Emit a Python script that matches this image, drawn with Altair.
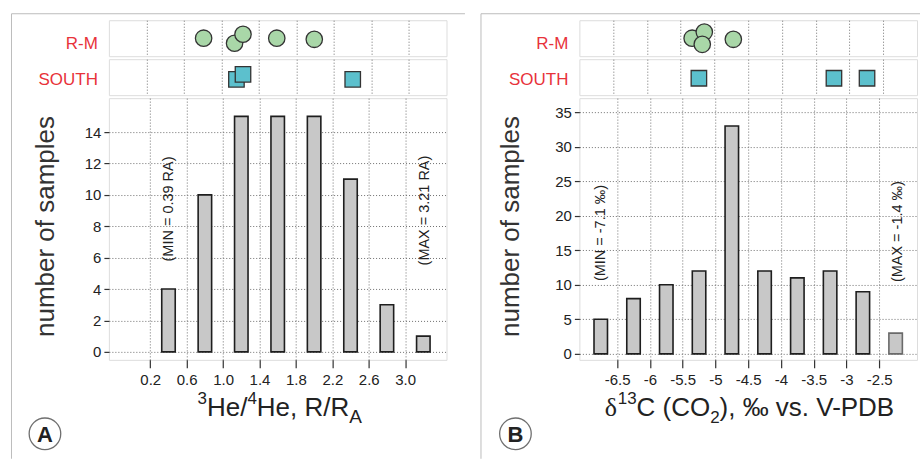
import altair as alt
import pandas as pd

# ---------------- data ----------------
a_centers = [0.4, 0.8, 1.2, 1.6, 2.0, 2.4, 2.8, 3.2]
a_counts = [4, 10, 15, 15, 15, 11, 3, 1]
a_ticks = [0.2, 0.6, 1.0, 1.4, 1.8, 2.2, 2.6, 3.0]
a_yticks = [0, 2, 4, 6, 8, 10, 12, 14]

b_centers = [-6.75, -6.25, -5.75, -5.25, -4.75, -4.25, -3.75, -3.25, -2.75, -2.25]
b_counts = [5, 8, 10, 12, 33, 12, 11, 12, 9, 3]
b_ticks = [-6.5, -6, -5.5, -5, -4.5, -4, -3.5, -3, -2.5]
b_yticks = [0, 5, 10, 15, 20, 25, 30, 35]

# strip (individual sample) positions and vertical jitter
a_rm_x = [0.81, 1.14, 1.23, 1.59, 1.99]
a_rm_j = [0.50, 0.36, 0.61, 0.50, 0.47]
a_s_x = [1.16, 1.23, 2.40]
a_s_j = [0.44, 0.58, 0.44]
b_rm_x = [-5.33, -5.15, -5.18, -4.72]
b_rm_j = [0.50, 0.67, 0.33, 0.47]
b_s_x = [-5.23, -3.23, -2.74]
b_s_j = [0.47, 0.47, 0.47]

# annotations
a_notes = ["(MIN = 0.39 RA)", "(MAX = 3.21 RA)"]
a_notes_x = [0.41, 3.22]
a_notes_y = [9.1, 9.0]
b_notes = ["(MIN = -7.1 ‰)", "(MAX = -1.4 ‰)"]
b_notes_x = [-6.74, -2.22]
b_notes_y = [17.5, 17.7]

group_labels = ["R-M", "SOUTH"]

# ---------------- styling ----------------
FONT = "Liberation Sans"
W = 338
STRIP_H = 36
HIST_H = 262
GRID = dict(gridColor="#6f6f6f", gridDash=[1, 2], gridWidth=1)
RED = "#e8323a"
GREEN = "#a9d7a8"
TEAL = "#5cc0cd"
FRAME = "#bdbdbd"

AW = {'H': .722, 'e': .556, '/': .278, ',': .278, ' ': .278, 'R': .722, 'A': .667,
      '3': .556, '4': .556, '1': .556, '2': .556, 'C': .722, '(': .333, ')': .333,
      'O': .778, '‰': 1.0, 'v': .5, 's': .5, '.': .278, 'V': .667, '-': .333,
      'P': .667, 'D': .722, 'B': .667, 'δ': .5}


def twidth(t, size):
    return sum(AW.get(c, .556) for c in t) * size


def rich_title(parts, center_x, base_y):
    """parts: (text, size, dy, font) -> list of text layers laid left to right"""
    total = sum(twidth(t, s) for t, s, dy, f in parts)
    x = center_x - total / 2
    layers = []
    for t, s, dy, f in parts:
        layers.append(
            alt.Chart(pd.DataFrame({"t": [t]})).mark_text(
                align="left", baseline="alphabetic", fontSize=s, font=f, color="#222"
            ).encode(text="t:N", x=alt.value(x), y=alt.value(base_y + dy))
        )
        x += twidth(t, s)
    return layers


def strip(xs, js, domain, ticks, shape, fill, label, label_y, size):
    df = pd.DataFrame({"x": xs, "j": js})
    pts = alt.Chart(df).mark_point(
        shape=shape, filled=True, fill=fill, stroke="#333333", strokeWidth=1.3,
        size=size, opacity=1
    ).encode(
        x=alt.X("x:Q", scale=alt.Scale(domain=domain, nice=False, zero=False),
                axis=alt.Axis(values=ticks, grid=True, labels=False, ticks=False,
                              domain=False, title=None, **GRID)),
        y=alt.Y("j:Q", scale=alt.Scale(domain=[0, 1]), axis=None),
        order=alt.Order("idx:Q"),
    ).transform_window(idx="row_number()")
    lab = alt.Chart(pd.DataFrame({"t": [label]})).mark_text(
        align="right", baseline="alphabetic", fontSize=17, font=FONT, color=RED
    ).encode(text="t:N", x=alt.value(-11), y=alt.value(label_y))
    return alt.layer(pts, lab).properties(width=W, height=STRIP_H)


def hist(centers, counts, domain, ticks, ydomain, yticks, notes, nx, ny,
         label_expr, ytitle_x, title_parts, letter, frame_left, frame_right,
         last_gray):
    df = pd.DataFrame({"x": centers, "n": counts})
    xenc = alt.X("x:Q", scale=alt.Scale(domain=domain, nice=False, zero=False),
                 axis=alt.Axis(values=ticks, grid=True, domain=False, tickSize=8,
                               tickColor="#333", tickWidth=1.2, labelFontSize=15,
                               labelColor="#222", labelPadding=5, labelExpr=label_expr,
                               labelOverlap=False, title=None, labelFont=FONT, **GRID))
    yenc = alt.Y("n:Q", scale=alt.Scale(domain=ydomain, nice=False, zero=False),
                 axis=alt.Axis(values=yticks, grid=True, domain=False, tickSize=5,
                               tickColor="#333", tickWidth=1.2, labelFontSize=15,
                               labelColor="#222", labelPadding=3, labelFont=FONT,
                               labelOverlap=False,
                               title="number of samples", titleFontSize=26,
                               titleFont=FONT, titleFontWeight="normal",
                               titleColor="#333", titleAngle=270, titleX=ytitle_x,
                               titleY=HIST_H / 2 - 3, titleAlign="center",
                               titleBaseline="middle", **GRID))
    if last_gray:
        stroke = alt.condition(alt.datum.x > last_gray, alt.value("#6a6a6a"),
                               alt.value("#1e1e1e"))
    else:
        stroke = alt.value("#1e1e1e")
    bars = alt.Chart(df).mark_bar(size=13.5, fill="#c8c8c8", strokeWidth=1.6).encode(
        x=xenc, y=yenc, stroke=stroke)
    ndf = pd.DataFrame({"t": notes, "x": nx, "n": ny})
    txt = alt.Chart(ndf).mark_text(angle=270, fontSize=14.5, font=FONT, color="#222",
                                   align="center", baseline="middle").encode(
        x=xenc, y=yenc, text="t:N")
    layers = [bars, txt]
    layers += rich_title(title_parts, W / 2 + 2, 318)
    # circled panel letter
    one = pd.DataFrame({"t": [letter]})
    layers.append(alt.Chart(one).mark_point(shape="circle", size=1000, filled=False,
                                            stroke="#333", strokeWidth=1.3).encode(
        x=alt.value(-64), y=alt.value(336)))
    layers.append(alt.Chart(one).mark_text(fontSize=22, fontWeight="bold", font=FONT,
                                           color="#222", align="center",
                                           baseline="middle").encode(
        text="t:N", x=alt.value(-64), y=alt.value(337)))
    # light panel frame (left, top, right edges)
    fr = alt.Chart(one).mark_rule(color=FRAME, strokeWidth=1)
    layers.append(fr.encode(x=alt.value(frame_left), y=alt.value(-84.5),
                            y2=alt.value(361)))
    layers.append(fr.encode(x=alt.value(frame_left), x2=alt.value(frame_right),
                            y=alt.value(-84.5)))
    if frame_right < 340:
        layers.append(fr.encode(x=alt.value(frame_right), y=alt.value(-84.5),
                                y2=alt.value(361)))
    return alt.layer(*layers).properties(width=W, height=HIST_H)


a_title = [("3", 17, -12, FONT), ("He/", 26, 0, FONT), ("4", 17, -12, FONT),
           ("He, R/R", 26, 0, FONT), ("A", 19, 7, FONT)]
b_title = [("δ", 26, 0, "Liberation Serif"), ("13", 17, -12, FONT),
           ("C (CO", 26, 0, FONT), ("2", 17, 7, FONT),
           ("), ‰ vs. V-PDB", 26, 0, FONT)]

rmA = strip(a_rm_x, a_rm_j, [-0.2, 3.4], a_ticks, "circle", GREEN, group_labels[0], 28.5, 270)
rmB = strip(b_rm_x, b_rm_j, [-7, -2], b_ticks, "circle", GREEN, group_labels[0], 28.5, 270)
sA = strip(a_s_x, a_s_j, [-0.2, 3.4], a_ticks, "square", TEAL, group_labels[1], 25.5, 240)
sB = strip(b_s_x, b_s_j, [-7, -2], b_ticks, "square", TEAL, group_labels[1], 25.5, 240)

hA = hist(a_centers, a_counts, [-0.2, 3.4], a_ticks, [-0.51, 16.16], a_yticks,
          a_notes, a_notes_x, a_notes_y, "format(datum.value, '.1f')", -63,
          a_title, "A", -97.5, 356.5, None)
hB = hist(b_centers, b_counts, [-7, -2], b_ticks, [-0.87, 37.03], b_yticks,
          b_notes, b_notes_x, b_notes_y, "datum.value + ''", -69,
          b_title, "B", -98.5, 341, -2.5)

chart = alt.concat(rmA, rmB, sA, sB, hA, hB, columns=2,
                   spacing={"row": 3, "column": 133}, bounds="flush").properties(
    padding={"left": 10, "top": 12, "right": 0, "bottom": 0},
    background="white",
).configure_view(stroke="#3c3c3c", strokeWidth=1.6).configure(font=FONT)

chart.save("out.html", embed_options={"renderer": "svg", "actions": False})
